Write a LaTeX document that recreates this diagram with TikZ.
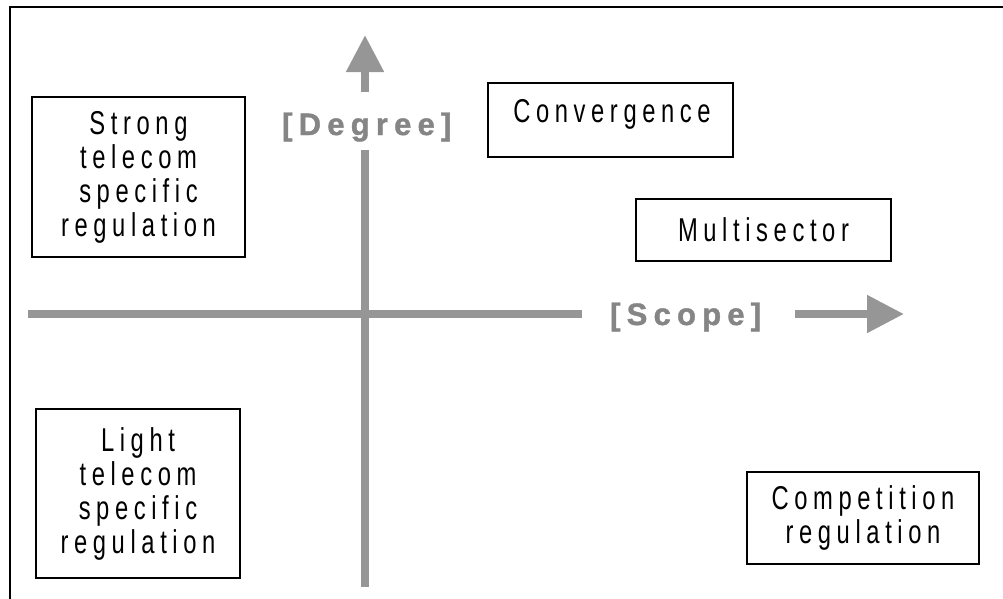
\documentclass[tikz,border=0pt]{standalone}
\usepackage{fontspec}
\setmainfont{Liberation Sans}
\newfontfamily\boxfont{Liberation Sans}[FakeStretch=0.72,LetterSpace=17]
\newfontfamily\axisfont{Liberation Sans Bold}[LetterSpace=20,FakeBold=1.3]
\usetikzlibrary{arrows.meta}
\definecolor{axisgray}{RGB}{150,150,150}
\definecolor{labelgray}{RGB}{133,133,133}
\tikzset{
  cat/.style={draw=black, line width=1.8pt, inner sep=0pt, align=center,
    font=\boxfont\fontsize{33}{34}\selectfont},
  boxonly/.style={draw=black, line width=1.8pt, inner sep=0pt},
  boxtext/.style={inner sep=0pt, font=\boxfont\fontsize{33}{34}\selectfont},
  axis/.style={draw=axisgray, line width=8pt},
  axisarrow/.style={axis, -{Triangle[width=36pt,length=37pt]}, fill=axisgray},
  axislabel/.style={inner sep=0pt, text=labelgray,
    font=\axisfont\fontsize{31}{32}\selectfont},
  frame/.style={draw=black, line width=2.5pt}
}
\begin{document}
\begin{tikzpicture}[x=1pt,y=-1pt]
\useasboundingbox (0,0) rectangle (1003,598);
% outer frame (left and top edges)
\coordinate (fbl) at (10,600);
\coordinate (ftl) at (10,7);
\coordinate (ftr) at (1005,7);
\draw[frame] (fbl) -- (ftl) -- (ftr);

% axes
\coordinate (vbot) at (365,587);
\coordinate (vmid) at (365,150);
\coordinate (vup) at (365,92);
\coordinate (vtip) at (365,35);
\coordinate (hleft) at (28,314);
\coordinate (hmid) at (582,314);
\coordinate (hstart) at (795,314);
\coordinate (htip) at (904,314);
\draw[axis] (vbot) -- (vmid);
\draw[axisarrow] (vup) -- (vtip);
\draw[axis] (hleft) -- (hmid);
\draw[axisarrow] (hstart) -- (htip);

\node[axislabel, anchor=base west] (degree) at (282,135) {[Degree]};
\node[axislabel, anchor=base west] (scope) at (610,325) {[Scope]};

% category boxes
\node[cat, minimum width=213pt, minimum height=160pt] (strong) at (138.5,177)
  {Strong\\telecom\\specific\\regulation};
\node[cat, minimum width=204pt, minimum height=169pt] (light) at (138,493.5)
  {Light\\telecom\\specific\\regulation};
\node[cat, minimum width=232pt, minimum height=92pt] (comp) at (863,518)
  {Competition\\regulation};
\node[cat, minimum width=255pt, minimum height=62pt] (multi) at (763.5,230)
  {Multisector};
\node[boxonly, minimum width=245pt, minimum height=74pt] (conv) at (610.5,120) {};
\node[boxtext, anchor=base] (convt) at (612,122) {Convergence};
\end{tikzpicture}
\end{document}
